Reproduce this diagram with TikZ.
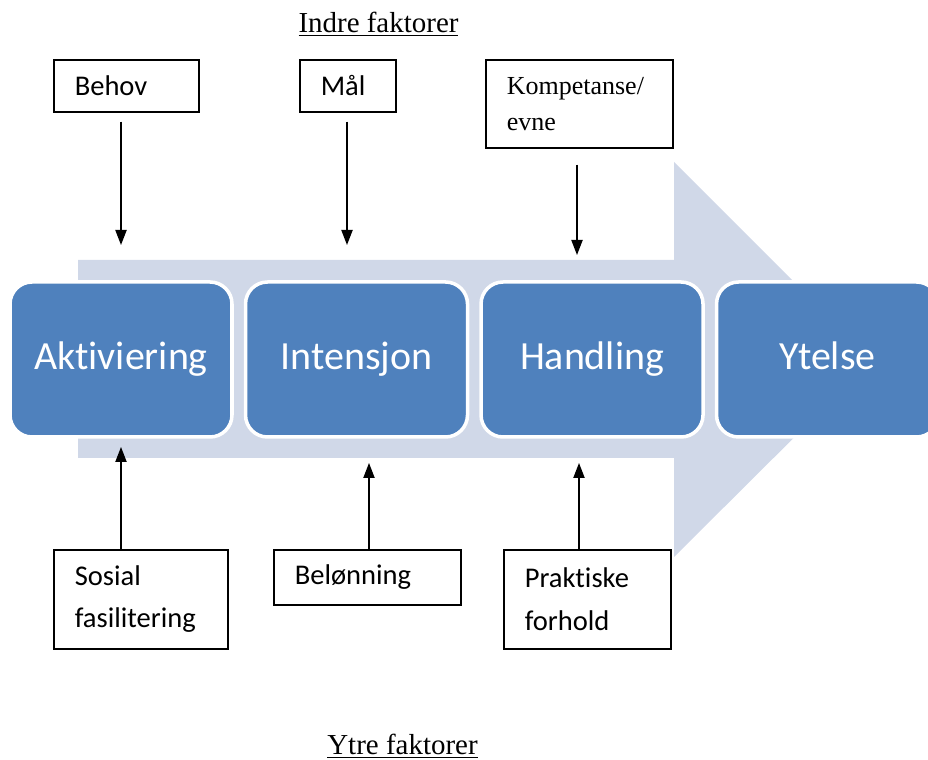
\documentclass[tikz,border=0pt]{standalone}
\usepackage{fontspec}
\setmainfont{Carlito}[RawFeature=-liga]
\newfontfamily\tnr{Liberation Serif}
\usetikzlibrary{arrows.meta, positioning}
\definecolor{stageblue}{HTML}{4F81BD}
\definecolor{flowgrey}{HTML}{D0D8E8}

\begin{document}
\begin{tikzpicture}[
  stage/.style={rectangle, draw=white, line width=2.5pt, fill=stageblue,
    rounded corners=0.55cm, minimum width=5.55cm, minimum height=3.875cm,
    text height=20pt, text depth=6pt,
    text=white, font=\fontsize{28.4}{34}\selectfont},
  factor/.style={rectangle, draw, line width=1.1pt, anchor=north west,
    inner xsep=0.525cm, inner ysep=0pt, align=left,
    font=\fontsize{20.3}{30}\selectfont},
  pil/.style={line width=1pt, -{Triangle[length=0.375cm, width=0.28cm]}},
  heading/.style={font=\tnr\fontsize{20.6}{24}\selectfont, anchor=base}
]
  \clip (0,0) rectangle (23.2,19);

  % Big arrow behind the stages
  \fill[flowgrey] (1.95,12.5) -- (16.85,12.5) -- (16.85,14.95) -- (21.8,10)
    -- (16.85,5.075) -- (16.85,7.55) -- (1.95,7.55) -- cycle;

  % Stages
  \node[stage] (A) at (3.025,10.0125) {Aktiviering};
  \node[stage, right=0.25cm of A] (I) {Intensjon};
  \node[stage, right=0.25cm of I] (H) {Handling};
  \node[stage, right=0.25cm of H] (Y) {Ytelse};

  % Headings
  \node[heading] (indre) at (9.4625,18.175) {\underline{Indre faktorer}};
  \node[heading] (ytre) at (10.0625,0.125) {\underline{Ytre faktorer}};

  % Inner factors
  \node[factor, text width=2.575cm, minimum height=1.3cm] (Behov)
    at (1.325,17.525) {Behov};
  \node[factor, text width=1.35cm, minimum height=1.3cm] (Maal)
    at (7.475,17.525) {Mål};
  \node[factor, text width=3.625cm, minimum height=2.2cm,
    font=\tnr\fontsize{18.5}{25.6}\selectfont] (Komp)
    at (12.125,17.525) {Kompetanse/\\evne};

  % Outer factors
  \node[factor, text width=3.3cm, minimum height=2.475cm] (Sosial)
    at (1.325,5.275) {Sosial\\fasilitering};
  \node[factor, text width=3.625cm, minimum height=1.375cm] (Lonn)
    at (6.825,5.275) {Belønning};
  \node[factor, text width=3.125cm, minimum height=2.475cm] (Prakt)
    at (12.575,5.275) {Praktiske\\forhold};

  % Arrow ends
  \coordinate (behovEnd) at (3.025,12.875);
  \coordinate (maalEnd) at (8.675,12.875);
  \coordinate (kompEnd) at (14.425,12.625);
  \coordinate (sosialEnd) at (3.025,7.825);
  \coordinate (lonnEnd) at (9.225,7.425);
  \coordinate (praktEnd) at (14.475,7.425);

  % Arrows
  \foreach \f/\e/\s in {Behov/behovEnd/0.225cm, Maal/maalEnd/0.225cm,
      Komp/kompEnd/0.4cm} {
    \draw[pil, shorten <=\s] (\f.south -| \e) -- (\e);
  }
  \foreach \f/\e in {Sosial/sosialEnd, Lonn/lonnEnd, Prakt/praktEnd} {
    \draw[pil] (\f.north -| \e) -- (\e);
  }
\end{tikzpicture}
\end{document}
